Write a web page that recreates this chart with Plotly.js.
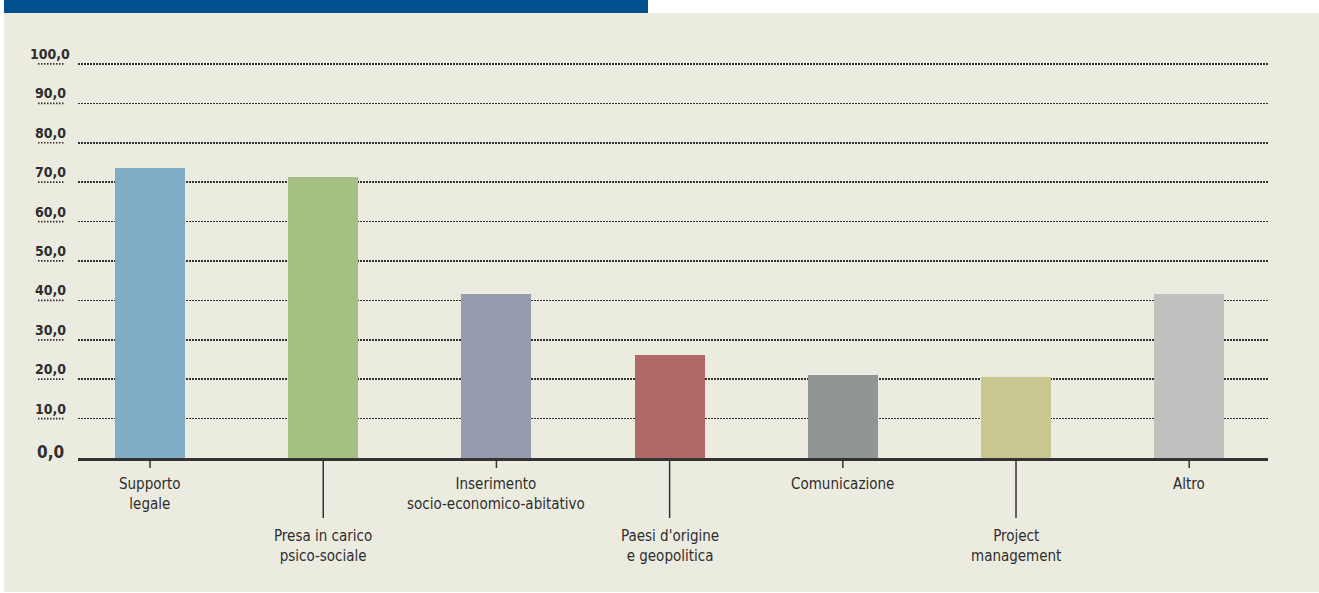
<!DOCTYPE html>
<html>
<head>
<meta charset="utf-8">
<script src="https://cdn.plot.ly/plotly-3.0.1.min.js"></script>
<style>html,body{margin:0;padding:0;background:#fff;}#chart{width:1319px;height:593px;}</style>
</head>
<body>
<div id="chart"></div>
<script>
// ---- data ----
const categories = ['Supporto legale', 'Presa in carico psico-sociale', 'Inserimento socio-economico-abitativo', "Paesi d'origine e geopolitica", 'Comunicazione', 'Project management', 'Altro'];
const tickLabels = ['Supporto<br>legale', 'Presa in carico<br>psico-sociale', 'Inserimento<br>socio-economico-abitativo', "Paesi d'origine<br>e geopolitica", 'Comunicazione', 'Project<br>management', 'Altro'];
const values = [73.6, 71.3, 41.6, 26.1, 21.1, 20.6, 41.6];
const barColors = ['#80adc5', '#a6c084', '#969bb0', '#b26867', '#919596', '#c9c790', '#c1c0bf'];
const labelRow = [0, 1, 0, 1, 0, 1, 0];
const yTicks = [0, 10, 20, 30, 40, 50, 60, 70, 80, 90, 100];
const yTickText = ['0,0', '10,0', '20,0', '30,0', '40,0', '50,0', '60,0', '70,0', '80,0', '90,0', '100,0'];

// ---- geometry ----
const W = 1319, H = 593;
const M = {l: 78, r: 51, t: 60, b: 135};
const PW = W - M.l - M.r, PH = H - M.t - M.b;
const Y_TOP = 101.0;
const px = x => (x - M.l) / PW;
const py = y => (H - M.b - y) / PH;
const FONT = '"Liberation Sans Narrow", "DejaVu Sans Condensed", "Arial Narrow", sans-serif';
const TXT = '#2e2e2e';

const shapes = [];
const annotations = [];
// background panels
shapes.push({type: 'rect', xref: 'paper', yref: 'paper', x0: px(4), x1: px(1319), y0: py(592), y1: py(13), fillcolor: '#ecebe0', line: {width: 0}, layer: 'below'});
shapes.push({type: 'rect', xref: 'paper', yref: 'paper', x0: px(4), x1: px(648), y0: py(13), y1: py(0), fillcolor: '#00518e', line: {width: 0}, layer: 'below'});

// y tick labels + small dotted underlines
yTicks.forEach((v, i) => {
  const zero = v === 0;
  annotations.push({
    xref: 'paper', yref: 'y', x: px(50), y: v, xanchor: 'center', yanchor: 'middle',
    yshift: zero ? 6 : 10, showarrow: false, text: '<b>' + yTickText[i] + '</b>',
    font: {family: FONT, size: zero ? 17 : 14, color: TXT}
  });
  if (!zero) {
    shapes.push({type: 'line', xref: 'paper', yref: 'y', x0: px(38), x1: px(64), y0: v, y1: v,
      line: {color: '#333', width: 1.7, dash: '1.5px,1.5px'}});
  }
});

// x ticks (alternating lengths) and labels
categories.forEach((c, i) => {
  const long = labelRow[i] === 1;
  shapes.push({type: 'line', xref: 'x', yref: 'paper', x0: c, x1: c, y0: py(459), y1: py(long ? 518 : 468),
    line: {color: '#333', width: 1.5}});
  annotations.push({
    xref: 'x', yref: 'paper', x: c, y: py(long ? 525 : 473), xanchor: 'center', yanchor: 'top',
    showarrow: false, text: tickLabels[i], align: 'center',
    font: {family: FONT, size: 15, color: TXT}
  });
});

const trace = {
  type: 'bar', x: categories, y: values, width: 0.404,
  marker: {color: barColors, line: {width: 0}}, hoverinfo: 'skip'
};

const layout = {
  width: W, height: H, autosize: false, margin: M,
  paper_bgcolor: '#ffffff', plot_bgcolor: 'rgba(0,0,0,0)',
  showlegend: false, bargap: 0,
  xaxis: {type: 'category', range: [-0.416, 6.455], showline: true, linecolor: '#333', linewidth: 2.5,
    showticklabels: false, ticks: '', showgrid: false, zeroline: false, fixedrange: true},
  yaxis: {range: [0, Y_TOP], tickvals: yTicks.slice(1), showticklabels: false, ticks: '',
    showgrid: true, gridcolor: '#333', gridwidth: 1.7, griddash: '1.5px,1.5px',
    zeroline: false, showline: false, fixedrange: true},
  shapes: shapes, annotations: annotations
};

Plotly.newPlot('chart', [trace], layout, {staticPlot: true, displayModeBar: false});
</script>
</body>
</html>
